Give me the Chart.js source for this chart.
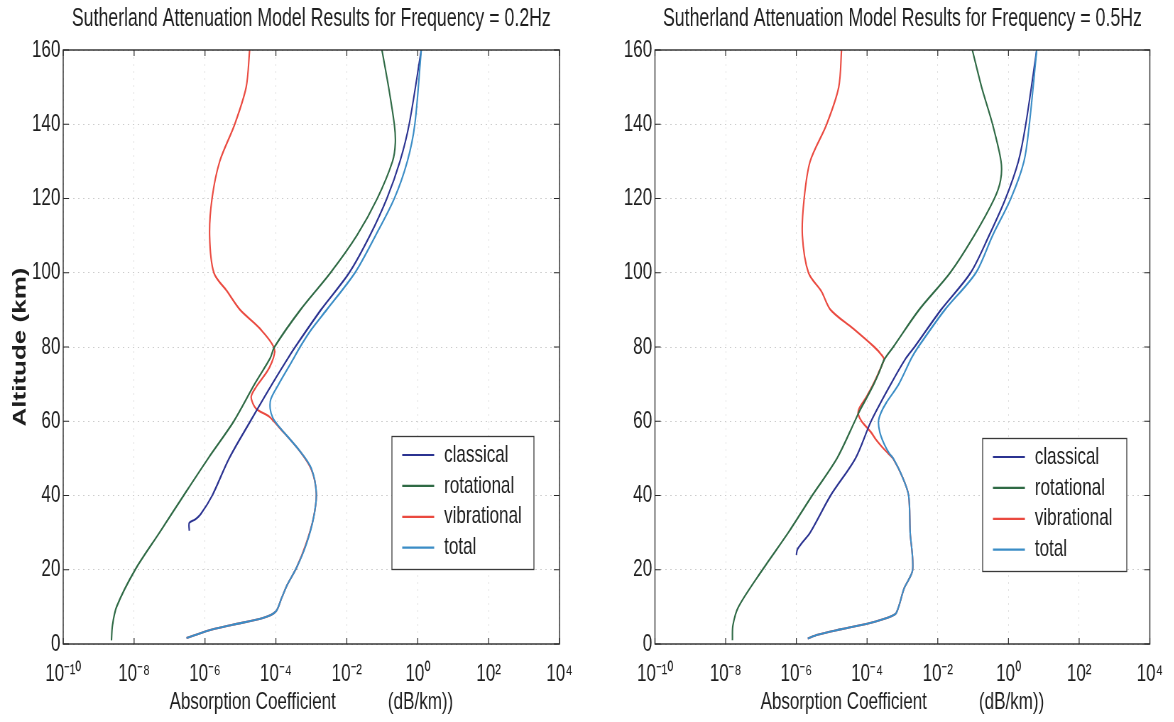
<!DOCTYPE html>
<html>
<head>
<meta charset="utf-8">
<script src="https://cdn.jsdelivr.net/npm/chart.js@4.4.1/dist/chart.umd.min.js"></script>
<style>
  html, body { margin: 0; padding: 0; background: #fff; width: 1174px; height: 722px; overflow: hidden; }
  canvas { position: absolute; top: 0; transform-origin: 0 0; }
</style>
</head>
<body>
<canvas id="c02" width="831" height="722" style="left:0px;transform:scaleX(0.71)"></canvas>
<canvas id="c05" width="823" height="722" style="left:590px;transform:scaleX(0.71)"></canvas>
<script>
// ---------------- data ----------------
const seriesNames = ['classical', 'rotational', 'vibrational', 'total'];
const altitudeTicks = [0, 20, 40, 60, 80, 100, 120, 140, 160];
const xTickExponents = [-10, -8, -6, -4, -2, 0, 2, 4];

// Frequency = 0.2 Hz
const alt02Classical = [160, 140, 130, 120, 110, 100, 90, 80, 77, 70, 60, 50, 40, 35, 33.5, 32.6, 30.5];
const abs02Classical = [1.26, 0.575, 0.316, 0.135, 0.0447, 0.0117, 1.86e-3, 3.5e-4, 2.2e-4, 7.8e-5, 1.9e-5, 4.8e-6, 1.6e-6, 7.6e-7, 5.2e-7, 3.6e-7, 3.6e-7];

const alt02Rotational = [160, 150, 140, 135, 130, 120, 110, 100, 90, 80, 77, 70, 60, 50, 40, 30, 20, 10, 5, 1];
const abs02Rotational = [0.098, 0.151, 0.219, 0.234, 0.195, 0.0724, 0.0191, 3.47e-3, 4.9e-4, 9.1e-5, 6.9e-5, 2.5e-5, 6.5e-6, 1.23e-6, 2.5e-7, 5.2e-8, 1.07e-8, 3.2e-9, 2.45e-9, 2.3e-9];

const alt02Vibrational = [160, 150, 140, 130, 120, 110, 100, 95, 90, 85, 79.4, 74.5, 69.2, 66.5, 63.4, 61.2, 58.5, 52, 47, 40.6, 34, 27, 20.5, 16, 12.4, 8.8, 7, 5.2, 3.9, 2.1, 1.6];
const abs02Vibrational = [1.82e-5, 1.45e-5, 6.9e-6, 2.6e-6, 1.58e-6, 1.35e-6, 1.78e-6, 4.2e-6, 9.8e-6, 3.5e-5, 9.1e-5, 6.6e-5, 2.75e-5, 2.0e-5, 2.75e-5, 6.6e-5, 1.2e-4, 4.7e-4, 1.0e-3, 1.38e-3, 1.15e-3, 7.1e-4, 3.8e-4, 2.1e-4, 1.45e-4, 1.0e-4, 4.3e-5, 6.0e-6, 1.58e-6, 4.2e-7, 3.0e-7];

const alt02Total = [160, 140, 130, 120, 110, 100, 90, 84.7, 80, 77, 70, 66, 63.4, 61, 59, 51.8, 47.3, 40.6, 33.9, 26.7, 20.5, 16, 12.4, 8.8, 7, 5.2, 3.9, 2.1, 1.6];
const abs02Total = [1.26, 0.83, 0.51, 0.219, 0.0646, 0.017, 2.7e-3, 1.0e-3, 4.8e-4, 3.2e-4, 1.2e-4, 7.2e-5, 6.9e-5, 8.1e-5, 1.12e-4, 4.9e-4, 1.0e-3, 1.38e-3, 1.15e-3, 7.1e-4, 3.8e-4, 2.1e-4, 1.45e-4, 1.0e-4, 4.3e-5, 6.0e-6, 1.58e-6, 4.2e-7, 3.0e-7];

// Frequency = 0.5 Hz
const alt05Classical = [160, 140, 130, 120, 110, 100, 90, 80, 77, 70, 60, 50, 40, 30, 27, 25.5, 24];
const abs05Classical = [6.3, 3.09, 1.91, 0.83, 0.282, 0.085, 0.0123, 2.2e-3, 1.26e-3, 4.7e-4, 1.3e-4, 4.7e-5, 9.3e-6, 2.45e-6, 1.38e-6, 1.07e-6, 1.0e-6];

const alt05Rotational = [160, 150, 140, 130, 125, 120, 110, 100, 90, 80, 76.7, 73, 70, 66.5, 63, 60, 50, 40, 30, 20, 10, 5, 1];
const abs05Rotational = [0.095, 0.174, 0.355, 0.617, 0.60, 0.40, 0.107, 0.0224, 2.95e-3, 5.5e-4, 3.1e-4, 2.15e-4, 1.55e-4, 1.0e-4, 6.3e-5, 4.5e-5, 1.41e-5, 2.8e-6, 5.9e-7, 1.1e-7, 2.3e-8, 1.6e-8, 1.55e-8];

const alt05Vibrational = [160, 150, 140, 130, 120, 110, 100, 95, 90, 85, 80, 78, 76.7, 73, 70, 66.5, 63.5, 62, 60, 57, 55, 53, 51.4, 50, 45, 40, 30, 20, 15, 10, 8, 6, 4, 2.5, 1.5];
const abs05Vibrational = [1.9e-5, 1.58e-5, 7.2e-6, 2.45e-6, 1.66e-6, 1.48e-6, 2.2e-6, 5.1e-6, 9.3e-6, 4.0e-5, 1.6e-4, 2.5e-4, 3.0e-4, 2.1e-4, 1.5e-4, 9.5e-5, 6.0e-5, 5.6e-5, 7.0e-5, 1.3e-4, 1.8e-4, 2.7e-4, 3.9e-4, 5.4e-4, 1.0e-3, 1.5e-3, 1.66e-3, 1.95e-3, 1.12e-3, 7.8e-4, 6.2e-4, 1.66e-4, 1.9e-5, 4.0e-6, 2.1e-6];

const alt05Total = [160, 140, 130, 120, 110, 100, 90, 80, 77, 70, 65, 62.4, 60, 57, 54, 51.4, 50, 45, 40, 30, 20, 15, 10, 8, 6, 4, 2.5, 1.5];
const abs05Total = [6.3, 3.9, 2.75, 1.17, 0.355, 0.12, 0.0158, 2.8e-3, 1.8e-3, 7.9e-4, 3.5e-4, 2.5e-4, 2.1e-4, 2.3e-4, 3.0e-4, 4.2e-4, 5.5e-4, 1.0e-3, 1.5e-3, 1.66e-3, 1.95e-3, 1.12e-3, 7.8e-4, 6.2e-4, 1.66e-4, 1.9e-5, 4.0e-6, 2.1e-6];

const title02 = 'Sutherland Attenuation Model Results for Frequency = 0.2Hz';
const title05 = 'Sutherland Attenuation Model Results for Frequency = 0.5Hz';
const xAxisTitle = 'Absorption Coefficient           (dB/km))';
const yAxisTitle = 'Altitude (km)';

// ---------------- styling ----------------
const seriesColors = ['#2b3391', '#2f6a45', '#ea4a40', '#3b8dc6'];
const seriesOrder = [1, 2, 3, 0];
const textColor = '#1e1e1e';
const FONT = '"Liberation Sans", Arial, Helvetica, sans-serif';
Chart.defaults.font.family = FONT;
Chart.defaults.color = textColor;

const SUP = { '-': '\u207B', '0': '\u2070', '1': '\u00B9', '2': '\u00B2', '3': '\u00B3', '4': '\u2074', '5': '\u2075', '6': '\u2076', '7': '\u2077', '8': '\u2078', '9': '\u2079' };
function powLabel(v) {
  const e = Math.round(Math.log10(v));
  return '10' + String(e).split('').map(c => SUP[c]).join('');
}

function toPoints(alts, vals) {
  return alts.map((a, i) => ({ x: vals[i], y: a }));
}

const framePlugin = {
  id: 'frame',
  afterDatasetsDraw(chart) {
    const { ctx, chartArea: ca, scales: { x, y } } = chart;
    ctx.save();
    ctx.strokeStyle = '#2a2a2a';
    ctx.lineWidth = 1.2;
    ctx.beginPath();
    x.ticks.forEach(t => {
      const px = x.getPixelForValue(t.value);
      ctx.moveTo(px, ca.bottom); ctx.lineTo(px, ca.bottom - 6);
      ctx.moveTo(px, ca.top); ctx.lineTo(px, ca.top + 6);
    });
    y.ticks.forEach(t => {
      const py = y.getPixelForValue(t.value);
      ctx.moveTo(ca.left, py); ctx.lineTo(ca.left + 8, py);
      ctx.moveTo(ca.right, py); ctx.lineTo(ca.right - 8, py);
    });
    ctx.stroke();
    ctx.lineWidth = 1.4;
    ctx.strokeRect(ca.left, ca.top, ca.right - ca.left, ca.bottom - ca.top);
    ctx.restore();
  },
  afterDraw(chart, args, opts) {
    const { ctx, chartArea: ca } = chart;
    const bx = ca.right - opts.right - opts.width;
    const by = ca.bottom - opts.bottom - opts.height;
    ctx.save();
    ctx.fillStyle = '#fff';
    ctx.fillRect(bx, by, opts.width, opts.height);
    ctx.strokeStyle = '#3a3a3a';
    ctx.lineWidth = 1.3;
    ctx.strokeRect(bx, by, opts.width, opts.height);
    ctx.font = '24px ' + FONT;
    ctx.textBaseline = 'middle';
    ctx.textAlign = 'left';
    seriesNames.forEach((name, i) => {
      const ds = chart.data.datasets.find(d => d.label === name);
      const ry = by + 18.5 + i * 30.9;
      ctx.strokeStyle = ds.borderColor;
      ctx.lineWidth = 2.2;
      ctx.beginPath();
      ctx.moveTo(bx + 14.5, ry); ctx.lineTo(bx + 59.5, ry);
      ctx.stroke();
      ctx.fillStyle = textColor;
      ctx.fillText(name, bx + 73.5, ry);
    });
    ctx.restore();
  }
};

function makeChart(id, title, series, yWidth, padRight, showYTitle, legendOpts) {
  const datasets = series.map((s, i) => ({
    label: seriesNames[i],
    data: toPoints(s[0], s[1]),
    borderColor: seriesColors[i],
    backgroundColor: seriesColors[i],
    borderWidth: 2.1,
    pointRadius: 0,
    tension: 0.3,
    fill: false,
    order: seriesOrder[i]
  }));
  return new Chart(document.getElementById(id), {
    type: 'line',
    data: { datasets },
    options: {
      responsive: false,
      animation: false,
      devicePixelRatio: 1,
      layout: { padding: { left: 0, right: padRight, top: 0, bottom: 0 } },
      plugins: {
        legend: { display: false },
        tooltip: { enabled: false },
        title: {
          display: true, text: title, fullSize: false,
          font: { size: 25, weight: 'normal', lineHeight: 1.2 },
          color: textColor,
          padding: { top: 4.5, bottom: 15.5 }
        },
        frame: legendOpts
      },
      scales: {
        x: {
          type: 'logarithmic', position: 'bottom',
          min: 1e-10, max: 1e4,
          afterBuildTicks(s) { s.ticks = xTickExponents.map(e => ({ value: Math.pow(10, e) })); },
          afterFit(s) { s.height = 78; },
          ticks: { callback: v => powLabel(v), font: { size: 24 }, color: textColor, padding: 16, maxRotation: 0, autoSkip: false },
          grid: { color: '#e0e0e0', lineWidth: 1, drawTicks: false },
          border: { display: false, dash: [2, 5] },
          title: { display: true, text: xAxisTitle, font: { size: 24, lineHeight: 1.2 }, color: textColor, padding: { top: 0, bottom: 5 } }
        },
        y: {
          type: 'linear', position: 'left',
          min: 0, max: 160,
          afterBuildTicks(s) { s.ticks = altitudeTicks.map(v => ({ value: v })); },
          afterFit(s) { s.width = yWidth; },
          ticks: { font: { size: 24 }, color: textColor, padding: 4 },
          grid: { color: '#cdcdcd', lineWidth: 1, drawTicks: false },
          border: { display: false, dash: [2, 5] },
          title: { display: showYTitle, text: yAxisTitle, font: { size: 26, weight: 'bold', lineHeight: 1.2 }, color: textColor, padding: { top: 13, bottom: 0 } }
        }
      }
    },
    plugins: [framePlugin]
  });
}

makeChart('c02', title02, [
  [alt02Classical, abs02Classical],
  [alt02Rotational, abs02Rotational],
  [alt02Vibrational, abs02Vibrational],
  [alt02Total, abs02Total]
], 89, 43, true, { right: 36, bottom: 74.5, width: 200, height: 133 });

makeChart('c05', title05, [
  [alt05Classical, abs05Classical],
  [alt05Rotational, abs05Rotational],
  [alt05Vibrational, abs05Vibrational],
  [alt05Total, abs05Total]
], 91.5, 27, false, { right: 32.5, bottom: 72.5, width: 203, height: 133 });
</script>
</body>
</html>
